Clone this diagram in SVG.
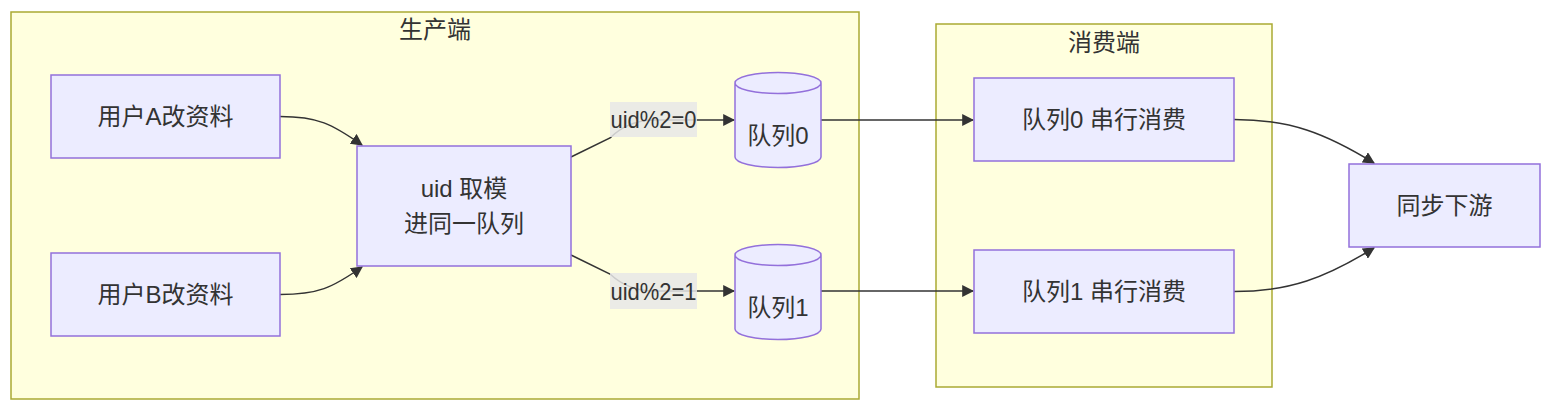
<svg xmlns="http://www.w3.org/2000/svg" width="1568" height="416" viewBox="0 0 1568 416">
<defs>
<style>
.cluster{fill:#ffffde;stroke:#aaaa33;stroke-width:1.5}
.node{fill:#ececff;stroke:#9370db;stroke-width:1.5}
.edge{fill:none;stroke:#333333;stroke-width:1.5}
.lblbg{fill:#e8e8e8;fill-opacity:0.85}
text{font-family:"Liberation Sans","Noto Sans CJK SC",sans-serif;font-size:24px;fill:#333333;text-anchor:middle;dominant-baseline:central}
</style>
<marker id="arrow" viewBox="0 0 10 10" refX="9" refY="5" markerUnits="userSpaceOnUse" markerWidth="12" markerHeight="12" orient="auto">
<path d="M0,0 L10,5 L0,10 z" fill="#333333"/>
</marker>
</defs>
<rect width="1568" height="416" fill="#ffffff"/>

<g id="cluster-producer">
<rect class="cluster" x="11" y="12" width="848" height="387"/>
<text x="435" y="29">生产端</text>
</g>
<g id="cluster-consumer">
<rect class="cluster" x="936" y="24" width="336" height="363"/>
<text x="1104" y="42">消费端</text>
</g>

<g id="edges">
<path class="edge" d="M280,116.5 C318,116.5 332,124 362,145" marker-end="url(#arrow)"/>
<path class="edge" d="M280,294.5 C318,294.5 332,288 362,267" marker-end="url(#arrow)"/>
<path class="edge" d="M571,157 L610,138 Q628,120 655,120 L734,120" marker-end="url(#arrow)"/>
<path class="edge" d="M571,255 L610,274 Q628,291 655,291 L734,291" marker-end="url(#arrow)"/>
<path class="edge" d="M821,120 L973,120" marker-end="url(#arrow)"/>
<path class="edge" d="M821,291 L973,291" marker-end="url(#arrow)"/>
<path class="edge" d="M1234,119.5 C1290,119.5 1325,133 1374,163" marker-end="url(#arrow)"/>
<path class="edge" d="M1234,291.5 C1290,291.5 1325,278 1374,248" marker-end="url(#arrow)"/>
</g>

<g id="edge-labels">
<g id="label-0">
<rect class="lblbg" x="610" y="102" width="87" height="35"/>
<text x="653.5" y="119.5" textLength="86" lengthAdjust="spacingAndGlyphs">uid%2=0</text>
</g>
<g id="label-1">
<rect class="lblbg" x="610" y="273" width="87" height="36"/>
<text x="653.5" y="291" textLength="86" lengthAdjust="spacingAndGlyphs">uid%2=1</text>
</g>
</g>

<g id="node-userA">
<rect class="node" x="51" y="75" width="229" height="83"/>
<text x="165.5" y="116.5">用户A改资料</text>
</g>
<g id="node-userB">
<rect class="node" x="51" y="253" width="229" height="83"/>
<text x="165.5" y="294.5">用户B改资料</text>
</g>
<g id="node-mod">
<rect class="node" x="357" y="146" width="214" height="120"/>
<text x="464" y="188">uid 取模</text>
<text x="464" y="223">进同一队列</text>
</g>
<g id="node-q0">
<path class="node" d="M735,83 a43,10.5 0 0,0 86,0 a43,10.5 0 0,0 -86,0 l0,74 a43,10.5 0 0,0 86,0 l0,-74"/>
<text x="778" y="135">队列0</text>
</g>
<g id="node-q1">
<path class="node" d="M735,255 a43,10.5 0 0,0 86,0 a43,10.5 0 0,0 -86,0 l0,74 a43,10.5 0 0,0 86,0 l0,-74"/>
<text x="778" y="307">队列1</text>
</g>
<g id="node-c0">
<rect class="node" x="974" y="78" width="260" height="83"/>
<text x="1104" y="119.5">队列0 串行消费</text>
</g>
<g id="node-c1">
<rect class="node" x="974" y="250" width="260" height="83"/>
<text x="1104" y="291.5">队列1 串行消费</text>
</g>
<g id="node-sync">
<rect class="node" x="1349" y="164" width="191" height="83"/>
<text x="1444.5" y="205.5">同步下游</text>
</g>
</svg>
